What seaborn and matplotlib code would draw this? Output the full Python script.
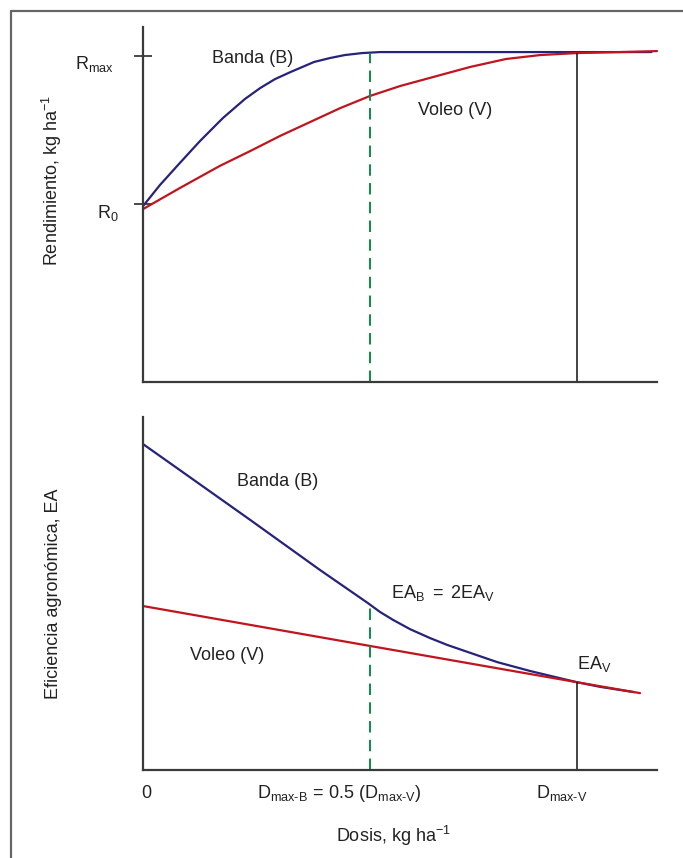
import numpy as np
import pandas as pd
import seaborn as sns
import matplotlib.pyplot as plt
from matplotlib.lines import Line2D

# Dose expressed as a fraction of the broadcast maximum-yield dose (D_max-V = 1)
dose_band_yield = [0, 0.039, 0.085, 0.131, 0.184, 0.235, 0.270, 0.304, 0.339,
                   0.394, 0.431, 0.465, 0.505, 0.546, 1.171]
yield_band = [0.533, 0.597, 0.664, 0.730, 0.800, 0.858, 0.891, 0.918, 0.939,
              0.970, 0.982, 0.991, 0.997, 1.0, 1.0]
dose_broad_yield = [0, 0.085, 0.177, 0.247, 0.316, 0.385, 0.454, 0.523, 0.592,
                    0.684, 0.754, 0.836, 0.915, 1.0, 1.099, 1.184]
yield_broad = [0.524, 0.588, 0.655, 0.700, 0.746, 0.788, 0.830, 0.867, 0.897,
               0.930, 0.955, 0.979, 0.991, 0.997, 1.0, 1.003]

dose_band_ea = [0, 0.085, 0.247, 0.408, 0.518, 0.546, 0.576, 0.615, 0.661,
                0.701, 0.754, 0.816, 0.892, 0.968, 1.0, 1.053, 1.131]
ea_band = [98.8, 90.9, 75.8, 60.6, 50.6, 47.9, 45.5, 42.7, 40.0,
           37.9, 35.5, 32.7, 30.0, 27.6, 26.6, 25.2, 23.6]
dose_broad_ea = [0, 0.523, 1.0, 1.145]
ea_broad = [49.7, 37.6, 26.6, 23.3]

d_max_band = 0.523
d_max_broad = 1.0
r_tick_values = [0.988, 0.539]
r_tick_labels = [r"$\mathregular{R_{max}}$", r"$\mathregular{R_0}$"]
x_labels = ["0", r"$\mathregular{D_{max‐B}\,{=}\,0.5\ (D_{max‐V})}$",
            r"$\mathregular{D_{max‐V}}$"]

BLUE = "#26237a"
RED = "#c0141e"
GREEN = "#1b8a50"
DARK = "#3a3a3a"
TXT = "#222222"

sns.set_theme(style="white")
plt.rcParams["font.family"] = ["Liberation Sans", "DejaVu Sans"]
plt.rcParams["mathtext.fontset"] = "custom"
plt.rcParams["mathtext.rm"] = "Liberation Sans"
plt.rcParams["mathtext.it"] = "Liberation Sans"
plt.rcParams["mathtext.bf"] = "Liberation Sans:bold"

W, H = 683, 858
fig = plt.figure(figsize=(W / 100, H / 100), dpi=100)
fig.patch.set_facecolor("white")

# outer frame (left and top edges)
fig.add_artist(Line2D([11 / W, 11 / W], [0, 1 - 11 / H], transform=fig.transFigure,
                      color="#666666", lw=1.6))
fig.add_artist(Line2D([11 / W, 1], [1 - 11 / H, 1 - 11 / H], transform=fig.transFigure,
                      color="#666666", lw=1.6))

left = 143 / W
width = (657 - 143) / W
ax1 = fig.add_axes([left, 1 - 382 / H, width, 355 / H])
ax2 = fig.add_axes([left, 1 - 770 / H, width, 353 / H])

xmax = 1.184
fs = 13

for ax in (ax1, ax2):
    ax.set_facecolor("white")
    for s in ("top", "right"):
        ax.spines[s].set_visible(False)
    for s in ("left", "bottom"):
        ax.spines[s].set_color(DARK)
        ax.spines[s].set_linewidth(1.6)
    ax.set_xlim(0, xmax)
    ax.set_xticks([])

# ---- yield panel ----
sns.lineplot(x=dose_band_yield, y=yield_band, ax=ax1, color=BLUE, lw=1.6,
             estimator=None, sort=False, clip_on=False)
sns.lineplot(x=dose_broad_yield, y=yield_broad, ax=ax1, color=RED, lw=1.6,
             estimator=None, sort=False, clip_on=False)
ax1.set_ylim(0, 1.076)
top_b = np.interp(d_max_band, dose_band_yield, yield_band)
top_v = np.interp(d_max_broad, dose_broad_yield, yield_broad)
ax1.vlines(d_max_band, 0, top_b, color=GREEN, lw=1.5, linestyles=(0, (5.5, 3.5)))
ax1.vlines(d_max_broad, 0, top_v, color="#222222", lw=1.2)
ax1.set_yticks(r_tick_values)
ax1.tick_params(axis="y", direction="inout", length=13.5, width=1.3, color=DARK,
                labelleft=False, left=True)
ax1.text(-0.157, 0.948, r_tick_labels[0], fontsize=fs, ha="left", va="baseline",
         color=TXT, clip_on=False)
ax1.text(-0.106, 0.497, r_tick_labels[1], fontsize=fs, ha="left", va="baseline",
         color=TXT, clip_on=False)
ax1.text(0.253, 0.982, "Banda (B)", fontsize=fs, ha="center", va="center", color=TXT)
ax1.text(0.719, 0.824, "Voleo (V)", fontsize=fs, ha="center", va="center", color=TXT)
ax1.set_ylabel(r"Rendimiento, kg ha$^{-1}$", fontsize=fs, color=TXT,
               rotation_mode="anchor")
ax1.yaxis.label.set_va("baseline")
ax1.yaxis.set_label_coords(-0.1654, 0.568)

# ---- agronomic efficiency panel ----
sns.lineplot(x=dose_band_ea, y=ea_band, ax=ax2, color=BLUE, lw=1.6,
             estimator=None, sort=False, clip_on=False)
sns.lineplot(x=dose_broad_ea, y=ea_broad, ax=ax2, color=RED, lw=1.6,
             estimator=None, sort=False, clip_on=False)
ax2.set_ylim(0, 107)
ax2.set_yticks([])
ea_b = np.interp(d_max_band, dose_band_ea, ea_band)
ea_v = np.interp(d_max_broad, dose_broad_ea, ea_broad)
ax2.vlines(d_max_band, 0, ea_b, color=GREEN, lw=1.5, linestyles=(0, (5.5, 3.5)))
ax2.vlines(d_max_broad, 0, ea_v, color="#222222", lw=1.2)
ax2.text(0.311, 87.6, "Banda (B)", fontsize=fs, ha="center", va="center", color=TXT)
ax2.text(0.571, 52.1, r"$\mathregular{EA_B\ {=}\ 2EA_V}$", fontsize=fs, ha="left",
         va="baseline", color=TXT)
ax2.text(0.194, 34.8, "Voleo (V)", fontsize=fs, ha="center", va="center", color=TXT)
ax2.text(1.0, 30.6, r"$\mathregular{EA_V}$", fontsize=fs, ha="left", va="baseline",
         color=TXT)
ax2.set_ylabel("Eficiencia agronómica, EA", fontsize=fs, color=TXT,
               rotation_mode="anchor")
ax2.yaxis.label.set_va("baseline")
ax2.yaxis.set_label_coords(-0.1654, 0.499)

# dose labels under the lower axis
for xpos, lbl in zip([-0.004, 0.262, 0.905], x_labels):
    ax2.text(xpos, -8.5, lbl, fontsize=fs, ha="left", va="baseline",
             color=TXT, clip_on=False)
ax2.text(0.488, -0.204, r"Dosis, kg ha$^{-1}$", fontsize=fs, color=TXT,
         ha="center", va="baseline", transform=ax2.transAxes, clip_on=False)

for ax in (ax1, ax2):
    leg = ax.get_legend()
    if leg is not None:
        leg.remove()

fig.savefig("out.png", dpi=100, facecolor="white")
